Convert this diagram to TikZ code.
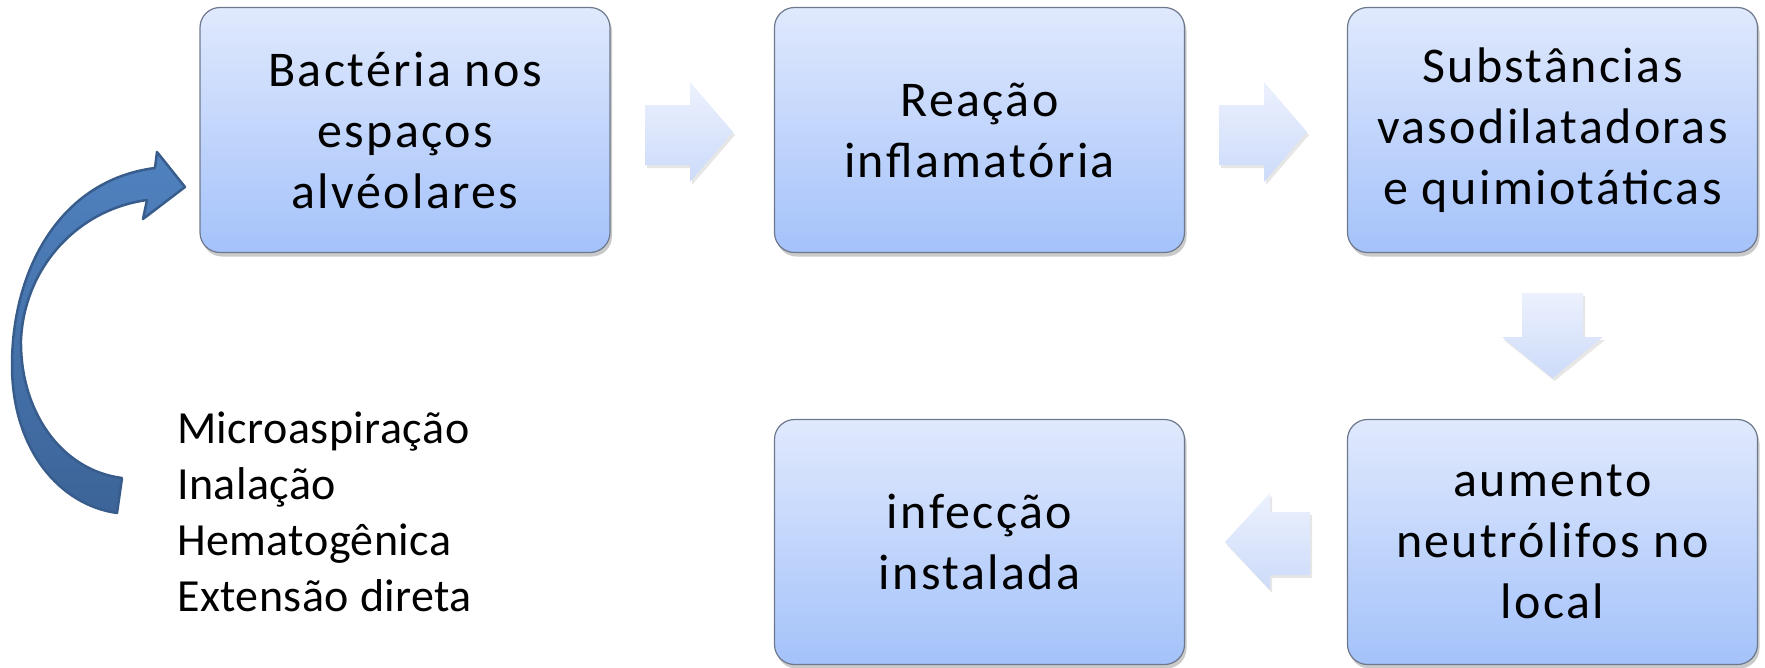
\documentclass[tikz,border=0pt]{standalone}
\usepackage{fontspec}
\setmainfont{Carlito}
\usetikzlibrary{shadows}
\definecolor{boxtop}{RGB}{224,233,253}
\definecolor{boxbot}{RGB}{164,194,250}
\definecolor{boxline}{RGB}{110,120,140}
\definecolor{arrtop}{RGB}{236,241,253}
\definecolor{arrbot}{RGB}{204,219,250}
\definecolor{curvetop}{RGB}{80,130,192}
\definecolor{curvebot}{RGB}{60,100,152}
\definecolor{curveline}{RGB}{56,93,140}
\begin{document}
\begin{tikzpicture}[x=1pt,y=-1pt,
 stepbox/.style={draw=boxline, line width=1.2pt, rounded corners=20pt,
   minimum width=410pt, minimum height=245pt, inner sep=0pt,
   top color=boxtop, bottom color=boxbot, align=center,
   font=\fontsize{50}{61}\selectfont\addfontfeatures{LetterSpace=4.8},
   drop shadow={shadow xshift=2pt, shadow yshift=-4pt, opacity=0.35, fill=black!60}},
 blockarrow/.style={top color=arrtop, bottom color=arrbot, draw=none,
   drop shadow={shadow xshift=2pt, shadow yshift=-3pt, opacity=0.2, fill=black!50}}]
\useasboundingbox (0,0) rectangle (1765,667);

\node[stepbox] (b1) at (405,130) {Bactéria nos\\espaços\\alvéolares};
\node[stepbox] (b2) at (979.5,130) {Reação\\inflamatória};
\node[stepbox] (b3) at (1552.5,130) {Substâncias\\vasodilatadoras\\e quimiotáticas};
\node[stepbox] (b4) at (1552.5,542) {aumento\\neutrólifos no\\local};
\node[stepbox] (b5) at (979.5,542) {infecção\\instalada};

% block arrows
\path[blockarrow] (645,105) -- (690,105) -- (690,82) -- (733,132) -- (690,182) -- (690,165) -- (645,165) -- cycle;
\path[blockarrow] (1219,105) -- (1264,105) -- (1264,82) -- (1307,132) -- (1264,182) -- (1264,165) -- (1219,165) -- cycle;
\path[blockarrow] (1522,293) -- (1583,293) -- (1583,337) -- (1603,337) -- (1552.5,378) -- (1502,337) -- (1522,337) -- cycle;
\path[blockarrow] (1310,512) -- (1270,512) -- (1270,493) -- (1225,542) -- (1270,590) -- (1270,575) -- (1310,575) -- cycle;

% curved arrow
\path[draw=curveline, line width=2.5pt, line join=round, top color=curvetop, bottom color=curvebot]
 (185,187) -- (157,152) -- (155,168)
 .. controls (60,180) and (12,270) .. (12,365)
 .. controls (12,450) and (60,505) .. (117,513)
 -- (122,478)
 .. controls (60,470) and (20,410) .. (21,340)
 .. controls (24,270) and (75,210) .. (147,200)
 -- (143,219) -- cycle;

\node[font=\fontsize{46}{56}\selectfont\addfontfeatures{LetterSpace=1}, align=left, anchor=west, inner sep=0pt] (src) at (177,512)
 {Microaspiração\\Inalação\\Hematogênica\\Extensão direta};
\end{tikzpicture}
\end{document}
